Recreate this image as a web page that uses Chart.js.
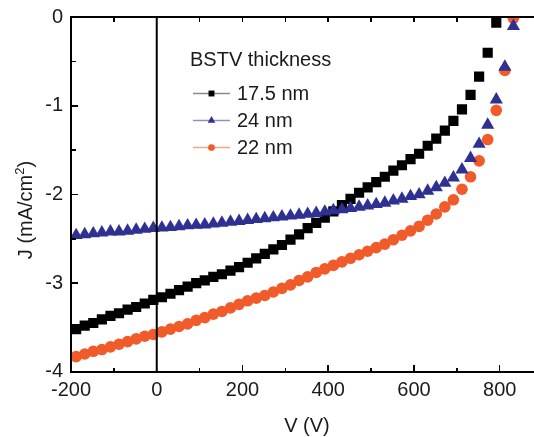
<!DOCTYPE html>
<html>
<head>
<meta charset="utf-8">
<script src="https://cdn.jsdelivr.net/npm/chart.js@4.4.1/dist/chart.umd.min.js"></script>
<style>
  html, body { margin: 0; padding: 0; background: #fff; }
  #wrap { position: relative; width: 534px; height: 437px; overflow: hidden; }
  canvas { display: block; }
  #axes { position: absolute; left: 0; top: 0; width: 534px; height: 437px; pointer-events: none; }
  #axes div { position: absolute; background: #000; }
</style>
</head>
<body>
<div id="wrap">
  <canvas id="jvChart" width="534" height="437"></canvas>
  <div id="axes"></div>
</div>
<script>
// bias voltage (V), same grid for all three films
const voltages = [-188, -168, -148, -128, -108, -88, -68, -48, -28, -8,
  12, 32, 52, 72, 92, 112, 132, 152, 172, 192,
  212, 232, 252, 272, 292, 312, 332, 352, 372, 392,
  412, 432, 452, 472, 492, 512, 532, 552, 572, 592,
  612, 632, 652, 672, 692, 712, 732, 752, 772, 792,
  812, 832]

// current density (mA/cm2)
const j175nm = [-3.52, -3.48, -3.45, -3.41, -3.37, -3.34, -3.30, -3.27, -3.23, -3.19,
  -3.16, -3.12, -3.08, -3.04, -3.00, -2.97, -2.93, -2.90, -2.86, -2.82,
  -2.77, -2.72, -2.67, -2.62, -2.57, -2.51, -2.45, -2.38, -2.32, -2.26,
  -2.19, -2.12, -2.05, -1.98, -1.92, -1.86, -1.80, -1.73, -1.67, -1.60,
  -1.54, -1.45, -1.37, -1.28, -1.17, -1.04, -0.875, -0.67, -0.40, -0.06]

const j24nm = [-2.46, -2.45, -2.44, -2.43, -2.42, -2.42, -2.41, -2.40, -2.39, -2.38,
  -2.375, -2.37, -2.36, -2.35, -2.345, -2.34, -2.33, -2.32, -2.31, -2.30,
  -2.29, -2.28, -2.27, -2.26, -2.25, -2.24, -2.23, -2.22, -2.21, -2.195,
  -2.18, -2.17, -2.155, -2.14, -2.125, -2.11, -2.095, -2.07, -2.05, -2.02,
  -2.00, -1.96, -1.92, -1.87, -1.81, -1.72, -1.59, -1.43, -1.215, -0.93,
  -0.56, -0.10]

const j22nm = [-3.83, -3.80, -3.77, -3.75, -3.72, -3.69, -3.66, -3.63, -3.60, -3.58,
  -3.55, -3.52, -3.49, -3.46, -3.42, -3.39, -3.35, -3.32, -3.28, -3.24,
  -3.20, -3.17, -3.14, -3.10, -3.06, -3.02, -2.97, -2.93, -2.88, -2.84,
  -2.80, -2.76, -2.72, -2.68, -2.64, -2.60, -2.56, -2.51, -2.46, -2.41,
  -2.36, -2.29, -2.22, -2.14, -2.06, -1.94, -1.80, -1.62, -1.38, -1.05,
  -0.60, -0.01]

const seriesLabels = ['17.5 nm', '24 nm', '22 nm']
const legendTitle = 'BSTV thickness'

const xTicks = [-200, 0, 200, 400, 600, 800]
const xMinorTicks = [-100, 100, 300, 500, 700]
const yTicks = [-4, -3, -2, -1, 0]
const yMinorTicks = [-3.5, -2.5, -1.5, -0.5]

const FONT = "'Liberation Sans', Arial, sans-serif"
const TEXT = '#1a1a1a'

const toPoints = (vals) => vals.map((j, i) => ({ x: voltages[i], y: j }))

const series = [
  { label: seriesLabels[0], data: toPoints(j175nm), color: '#000000', line: '#8a8a8a', style: 'rect', r: 7.2 },
  { label: seriesLabels[1], data: toPoints(j24nm), color: '#2e3192', line: '#8f8fc8', style: 'triangle', r: 7.6 },
  { label: seriesLabels[2], data: toPoints(j22nm), color: '#f15a29', line: '#f5a487', style: 'circle', r: 5.8 }
]

// blue first so black and orange sit on top of it
const drawOrder = [1, 0, 2]

const texts = {
  id: 'texts',
  afterDraw(chart) {
    const { ctx, chartArea: a, scales: { x } } = chart
    ctx.save()
    // vertical line at V = 0
    ctx.fillStyle = '#000000'
    const x0 = x.getPixelForValue(0)
    ctx.fillRect(x0 - 1, a.top, 2, a.bottom - a.top)

    ctx.fillStyle = TEXT
    ctx.font = `20px ${FONT}`
    ctx.textAlign = 'center'
    ctx.textBaseline = 'alphabetic'
    ctx.fillText('V (V)', 307, 431.5)

    // y title, rotated, with superscript 2
    const main = 'J (mA/cm'
    const wMain = ctx.measureText(main).width
    ctx.font = `13px ${FONT}`
    const wSup = ctx.measureText('2').width
    ctx.font = `20px ${FONT}`
    const wEnd = ctx.measureText(')').width
    const total = wMain + wSup + wEnd
    ctx.translate(32, 210 + total / 2)
    ctx.rotate(-Math.PI / 2)
    ctx.textAlign = 'left'
    ctx.fillText(main, 0, 0)
    ctx.font = `13px ${FONT}`
    ctx.fillText('2', wMain, -8)
    ctx.font = `20px ${FONT}`
    ctx.fillText(')', wMain + wSup, 0)
    ctx.restore()

    // legend
    ctx.save()
    ctx.fillStyle = TEXT
    ctx.font = `20px ${FONT}`
    ctx.textAlign = 'left'
    ctx.textBaseline = 'alphabetic'
    ctx.fillText(legendTitle, 190, 66)
    const rows = [93.5, 120.5, 147.5]
    series.forEach((s, i) => {
      const yy = rows[i]
      ctx.fillStyle = s.line
      ctx.fillRect(193, yy - 0.75, 37, 1.5)
      ctx.fillStyle = s.color
      Chart.helpers.drawPoint(ctx, { pointStyle: s.style, radius: s.r * 0.58, rotation: 0, borderWidth: 0 }, 211.5, yy)
      ctx.fillStyle = TEXT
      ctx.textBaseline = 'middle'
      ctx.fillText(s.label, 237, yy + 1)
    })
    ctx.restore()
  }
}

const jvChart = new Chart(document.getElementById('jvChart'), {
  type: 'scatter',
  data: {
    datasets: drawOrder.map((idx) => {
      const s = series[idx]
      return {
        label: s.label,
        data: s.data,
        showLine: false,
        pointStyle: s.style,
        pointRadius: s.r,
        pointHoverRadius: s.r,
        pointBackgroundColor: s.color,
        pointBorderColor: s.color,
        pointBorderWidth: 0
      }
    })
  },
  options: {
    responsive: false,
    animation: false,
    events: [],
    layout: { autoPadding: false, padding: { top: 17.3, right: 0, left: 0, bottom: 0 } },
    plugins: { legend: { display: false }, tooltip: { enabled: false } },
    scales: {
      x: {
        type: 'linear',
        position: 'bottom',
        min: -200,
        max: 880,
        grid: { display: false, drawTicks: false },
        border: { display: false },
        ticks: { color: TEXT, font: { family: FONT, size: 20 }, padding: 6.5, maxRotation: 0, autoSkip: false, callback: v => String(v) },
        afterBuildTicks: s => { s.ticks = xTicks.map(v => ({ value: v })) },
        afterFit: s => { s.height = 65.3; s.paddingLeft = 0; s.paddingRight = 0 }
      },
      y: {
        type: 'linear',
        position: 'left',
        min: -4,
        max: 0,
        grid: { display: false, drawTicks: false },
        border: { display: false },
        ticks: { color: TEXT, font: { family: FONT, size: 20 }, padding: 8, autoSkip: false, callback: v => String(v) },
        afterBuildTicks: s => { s.ticks = yTicks.map(v => ({ value: v })) },
        afterFit: s => { s.width = 71; s.paddingTop = 0; s.paddingBottom = 0 }
      }
    }
  },
  plugins: [texts]
})

// axis box and inward ticks, placed from the chart's own scales
const axesLayer = document.getElementById('axes')
const bar = (l, t, w, h) => {
  const d = document.createElement('div')
  d.style.left = l + 'px'
  d.style.top = t + 'px'
  d.style.width = w + 'px'
  d.style.height = h + 'px'
  axesLayer.appendChild(d)
}
const xs = jvChart.scales.x
const ys = jvChart.scales.y
const plotLeft = xs.getPixelForValue(-200)
const plotRight = xs.getPixelForValue(880)
const plotTop = ys.getPixelForValue(0)
const plotBottom = ys.getPixelForValue(-4)

bar(plotLeft - 1, plotTop - 1, plotRight - plotLeft + 1, 2)
bar(plotLeft - 1, plotBottom - 1, plotRight - plotLeft + 1, 2)
bar(plotLeft - 1, plotTop - 1, 2, plotBottom - plotTop + 2)
xTicks.forEach(v => {
  const px = xs.getPixelForValue(v)
  bar(px - 0.75, plotBottom - 7, 1.5, 7)
  bar(px - 0.75, plotTop, 1.5, 5)
})
xMinorTicks.forEach(v => {
  const px = xs.getPixelForValue(v)
  bar(px - 0.75, plotBottom - 4, 1.5, 4)
  bar(px - 0.75, plotTop, 1.5, 5)
})
yTicks.forEach(v => bar(plotLeft, ys.getPixelForValue(v) - 0.75, 7, 1.5))
yMinorTicks.forEach(v => bar(plotLeft, ys.getPixelForValue(v) - 0.75, 4.5, 1.5))
</script>
</body>
</html>
